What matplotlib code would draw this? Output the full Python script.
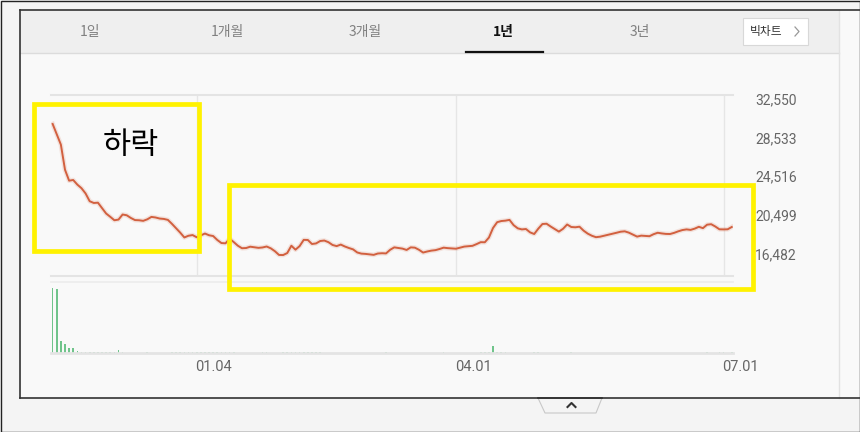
import numpy as np
import pandas as pd
import matplotlib
matplotlib.use('Agg')
import matplotlib.pyplot as plt
from matplotlib.patches import Rectangle, Polygon
from matplotlib.transforms import ScaledTranslation

plt.rcParams['font.family'] = ['Roboto', 'Noto Sans CJK KR', 'DejaVu Sans']

# daily close (won)
prices = [
    29950, 28880, 27800, 25190, 24050, 24120, 23640, 23270, 22720, 21910,
    21730, 21760, 21190, 20630, 20290, 19930, 20000, 20530, 20450, 20170,
    19950, 19930, 19870, 20030, 20280, 20220, 20110, 20070, 19970, 19550,
    19100, 18640, 18140, 18320, 18390, 18160, 18350, 18550, 18370, 18290,
    17880, 17560, 17530, 18020, 17660, 17280, 17020, 17040, 17180, 17120,
    17060, 17100, 17200, 17010, 16710, 16320, 16310, 16520, 17280, 16870,
    17240, 17890, 17880, 17460, 17520, 17770, 17820, 17650, 17360, 17240,
    17400, 17200, 17040, 16900, 16580, 16460, 16430, 16380, 16330, 16470,
    16500, 16480, 16860, 17110, 17050, 16980, 16840, 17110, 17080, 16860,
    16570, 16680, 16770, 16820, 16940, 17080, 17030, 17000, 16970, 17080,
    17190, 17230, 17270, 17450, 17650, 17640, 18130, 19130, 19730, 19850,
    19890, 19970, 19420, 19090, 18980, 19020, 18670, 18500, 19060, 19540,
    19570, 19280, 19010, 18750, 19040, 19490, 19230, 19200, 19260, 18850,
    18540, 18320, 18170, 18220, 18320, 18430, 18530, 18630, 18740, 18780,
    18640, 18430, 18230, 18330, 18300, 18270, 18480, 18630, 18560, 18510,
    18500, 18620, 18780, 18910, 18980, 18930, 19060, 19250, 19110, 19470,
    19520, 19280, 18990, 18980, 18990, 19230,
]

# daily volume, thousands of shares
vol_k = [
    3200, 3150, 590, 440, 230, 270, 110, 60, 55, 50,
    50, 45, 50, 45, 40, 55, 150, 60, 20, 15,
    15, 20, 15, 55, 20, 15, 12, 15, 20, 25,
    50, 45, 55, 50, 45, 55, 50, 60, 50, 45,
    55, 50, 45, 50, 45, 20, 15, 15, 12, 15,
    20, 50, 45, 15, 15, 20, 25, 50, 70, 50,
    55, 60, 50, 55, 50, 45, 20, 15, 12, 15,
    20, 15, 12, 10, 15, 20, 15, 12, 10, 15,
    20, 25, 15, 12, 15, 20, 15, 10, 12, 15,
    20, 15, 12, 15, 20, 25, 15, 12, 15, 20,
    15, 12, 15, 20, 25, 30, 40, 360, 60, 55,
    50, 20, 15, 15, 12, 15, 20, 25, 50, 15,
    12, 15, 20, 15, 12, 15, 50, 15, 12, 15,
    20, 15, 12, 10, 15, 20, 15, 12, 10, 15,
    20, 15, 12, 15, 20, 15, 12, 10, 15, 20,
    15, 12, 15, 20, 15, 12, 15, 20, 15, 50,
    15, 20, 25, 55, 20, 25,
]

tabs = ['1일', '1개월', '3개월', '1년', '3년']
y_ticks = [16482, 20499, 24516, 28533, 32550]
x_tick_dates = ['2021-01-04', '2021-04-01', '2021-07-01']

dates = pd.bdate_range('2020-11-16', periods=len(prices))
idx = np.arange(len(prices))
tick_idx = [dates.get_loc(pd.Timestamp(d)) for d in x_tick_dates]
tick_lbl = [pd.Timestamp(d).strftime('%m.%d') for d in x_tick_dates]

W, H = 860, 432
fig = plt.figure(figsize=(W / 100, H / 100), dpi=100, facecolor='#f4f4f4')


def px_axes(x0, y0, x1, y1):
    # box given in pixels, y measured from the top
    return fig.add_axes([x0 / W, 1 - y1 / H, (x1 - x0) / W, (y1 - y0) / H])


# background: frame, tab bar
bg = px_axes(0, 0, W, H)
bg.set_xlim(0, W)
bg.set_ylim(H, 0)
bg.axis('off')
bg.add_patch(Rectangle((20, 10), 840, 388, facecolor='#f9f9f9', edgecolor='none'))
bg.add_patch(Rectangle((20, 10), 819, 43, facecolor='#efefef', edgecolor='none'))
bg.plot([20, 839], [53, 53], color='#dcdcdc', lw=1)
bg.plot([839, 839], [10, 398], color='#e2e2e2', lw=1)
bg.plot([20, 860], [10, 10], color='#333333', lw=1.2)
bg.plot([20, 20], [10, 398], color='#333333', lw=1.2)
bg.plot([20, 860], [398, 398], color='#333333', lw=1.2)
bg.add_patch(Rectangle((0.5, 0.5), W - 1, H - 1, facecolor='none', edgecolor='#222222', lw=1))

tab_x = [90, 227, 365, 503, 640]
for t, x in zip(tabs, tab_x):
    sel = t == '1년'
    bg.text(x, 32, t, ha='center', va='center', fontsize=10,
            color='#111111' if sel else '#808080',
            fontweight='bold' if sel else 'normal',
            family=['Noto Sans CJK KR', 'DejaVu Sans'])
bg.plot([466, 543], [52, 52], color='#111111', lw=1.6)

bg.add_patch(Rectangle((743, 18), 65, 27, facecolor='white', edgecolor='#d8d8d8', lw=0.8))
bg.text(766, 31.5, '빅차트', ha='center', va='center', fontsize=8.5, color='#333333',
        family=['Noto Sans CJK KR', 'DejaVu Sans'])
bg.plot([795, 799, 795], [27, 31.5, 36], color='#999999', lw=0.9)

bg.plot([51, 733], [282, 282], color='#ececec', lw=1.2)

# bottom pull tab
bg.add_patch(Polygon([(538, 398), (545, 413), (596, 413), (602, 398)],
                     closed=True, facecolor='#f4f4f4', edgecolor='#c8c8c8', lw=0.8))
bg.plot([538, 602], [398, 398], color='#333333', lw=1.2)
bg.plot([567.5, 571.5, 575.5], [407, 403, 407], color='#333333', lw=1.5)

# price line
ax = px_axes(51, 95, 733, 276)
ax.patch.set_alpha(0)
ax.plot(idx, prices, color='#d0603f', lw=3.4, alpha=0.15, zorder=2)
ax.plot(idx, prices, color='#d2603f', lw=1.4, zorder=3)
ax.set_xlim(-0.4, 165.3)
ax.set_ylim(14130, 32966)
ax.set_xticks(tick_idx)
ax.tick_params(axis='x', length=0, labelbottom=False)
ax.grid(axis='x', color='#e6e6e6', lw=1)
ax.yaxis.tick_right()
ax.set_yticks(y_ticks)
ax.set_yticklabels([f'{v:,}' for v in y_ticks])
ax.tick_params(axis='y', length=0, pad=16, labelsize=10, labelcolor='#666666')
for s in ['left', 'right']:
    ax.spines[s].set_visible(False)
for s in ['top', 'bottom']:
    ax.spines[s].set_color('#e4e4e4')
    ax.spines[s].set_linewidth(1.5)

# volume bars
vax = px_axes(51, 288, 733, 353)
vax.patch.set_alpha(0)
vol = np.array(vol_k) * 1000
vax.bar(idx, vol, width=0.4, color='#70c48b')
vax.set_xlim(-0.4, 165.3)
vax.set_ylim(0, vol.max())
vax.set_yticks([])
vax.set_xticks(tick_idx)
vax.set_xticklabels(tick_lbl)
vax.tick_params(axis='x', length=0, pad=5, labelsize=10.5, labelcolor='#666666')
for s in ['left', 'right', 'top']:
    vax.spines[s].set_visible(False)
vax.spines['bottom'].set_color('#e4e4e4')
vax.spines['bottom'].set_linewidth(2)
shift = ScaledTranslation(17 / 100, 0, fig.dpi_scale_trans)
for lab in vax.get_xticklabels():
    lab.set_transform(lab.get_transform() + shift)

# annotations on top
ov = px_axes(0, 0, W, H)
ov.set_zorder(10)
ov.set_xlim(0, W)
ov.set_ylim(H, 0)
ov.axis('off')
ov.add_patch(Rectangle((33.7, 103.7), 165.3, 147.6, facecolor='none', edgecolor='#fff200', lw=3.4))
ov.add_patch(Rectangle((228.7, 184.5), 524.6, 104.5, facecolor='none', edgecolor='#fff200', lw=3.4))
ov.text(131, 145, '하락', ha='center', va='center', fontsize=22, color='black',
        family=['Noto Sans CJK KR', 'DejaVu Sans'])

fig.savefig('out.png', dpi=100, facecolor=fig.get_facecolor())
